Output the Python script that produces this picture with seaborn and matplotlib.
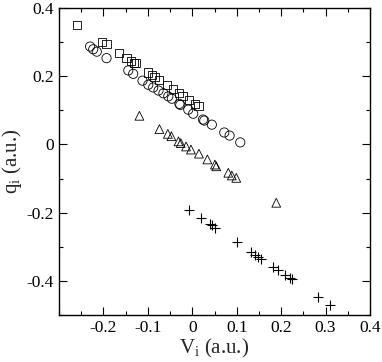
import numpy as np
import pandas as pd
import matplotlib
matplotlib.use("Agg")
import matplotlib.pyplot as plt
from matplotlib.ticker import MultipleLocator
import seaborn as sns

# squares
sq_v = [-0.260, -0.204, -0.193, -0.164, -0.148, -0.138, -0.131, -0.127,
        -0.099, -0.091, -0.085, -0.075, -0.057, -0.043, -0.029, -0.022,
        -0.007, 0.006, 0.014]
sq_q = [0.350, 0.301, 0.294, 0.267, 0.253, 0.245, 0.240, 0.238,
        0.211, 0.204, 0.197, 0.189, 0.175, 0.162, 0.150, 0.141,
        0.131, 0.119, 0.113]

# circles
ci_v = [-0.230, -0.223, -0.215, -0.193, -0.144, -0.133, -0.112, -0.099,
        -0.088, -0.076, -0.065, -0.054, -0.046, -0.029, -0.027, -0.009,
        0.002, 0.024, 0.027, 0.044, 0.072, 0.084, 0.108]
ci_q = [0.287, 0.279, 0.272, 0.253, 0.217, 0.207, 0.187, 0.175,
        0.167, 0.158, 0.150, 0.141, 0.134, 0.119, 0.116, 0.102,
        0.090, 0.073, 0.070, 0.058, 0.035, 0.026, 0.006]

# triangles
tr_v = [-0.119, -0.074, -0.055, -0.047, -0.031, -0.026, -0.014, -0.003,
        0.015, 0.034, 0.051, 0.054, 0.081, 0.089, 0.099, 0.189]
tr_q = [0.084, 0.045, 0.031, 0.024, 0.009, 0.004, -0.006, -0.015,
        -0.027, -0.044, -0.059, -0.064, -0.083, -0.091, -0.098, -0.171]

# crosses
cr_v = [-0.007, 0.019, 0.039, 0.044, 0.051, 0.100, 0.132, 0.141, 0.147,
        0.154, 0.181, 0.194, 0.209, 0.219, 0.224, 0.284, 0.310]
cr_q = [-0.193, -0.217, -0.233, -0.237, -0.244, -0.286, -0.314, -0.324,
        -0.330, -0.335, -0.358, -0.369, -0.383, -0.391, -0.395, -0.447,
        -0.471]

df = pd.concat([
    pd.DataFrame({"V": sq_v, "q": sq_q, "set": "sq"}),
    pd.DataFrame({"V": ci_v, "q": ci_q, "set": "ci"}),
    pd.DataFrame({"V": tr_v, "q": tr_q, "set": "tr"}),
    pd.DataFrame({"V": cr_v, "q": cr_q, "set": "cr"}),
])

sns.set_style("ticks")
plt.rcParams["font.family"] = ["Liberation Serif", "DejaVu Serif"]
plt.rcParams["mathtext.fontset"] = "custom"
plt.rcParams["mathtext.rm"] = "Liberation Serif"
plt.rcParams["mathtext.it"] = "Liberation Serif"

fig = plt.figure(figsize=(3.82, 3.62), dpi=100)
ax = fig.add_axes([59 / 382, 1 - 315 / 362, 311 / 382, 307 / 362])

styles = {"sq": "s", "ci": "o", "tr": "^", "cr": "+"}
sizes = {"sq": 34, "ci": 44, "tr": 40, "cr": 55}
for key, m in styles.items():
    sub = df[df["set"] == key]
    if m == "+":
        sns.scatterplot(data=sub, x="V", y="q", marker=m, s=sizes[key],
                        color="black", linewidth=0.8, ax=ax, legend=False)
    else:
        sns.scatterplot(data=sub, x="V", y="q", marker=m, s=sizes[key],
                        facecolor="none", edgecolor="black", linewidth=0.6,
                        ax=ax, legend=False)

ax.set_xlim(-0.3, 0.4)
ax.set_ylim(-0.5, 0.4)
ax.xaxis.set_minor_locator(MultipleLocator(0.05))
ax.yaxis.set_minor_locator(MultipleLocator(0.1))
ax.set_xticks([-0.2, -0.1, 0, 0.1, 0.2, 0.3, 0.4])
ax.set_xticklabels(["-0.2", "-0.1", "0", "0.1", "0.2", "0.3", "0.4"])
ax.set_yticks([-0.4, -0.2, 0, 0.2, 0.4])
ax.set_yticklabels(["-0.4", "-0.2", "0", "0.2", "0.4"])
ax.tick_params(which="both", direction="in", top=True, right=True,
               labelsize=12.5, colors="black")
ax.tick_params(which="major", length=6, width=0.8)
ax.tick_params(which="minor", length=3, width=0.8)
for sp in ax.spines.values():
    sp.set_linewidth(1.0)
    sp.set_color("black")

ax.set_xlabel(r"V$_{\rm i}$ (a.u.)", fontsize=15, labelpad=1)
ax.set_ylabel(r"q$_{\rm i}$ (a.u.)", fontsize=15, labelpad=2)

fig.savefig("out.png", dpi=100)
